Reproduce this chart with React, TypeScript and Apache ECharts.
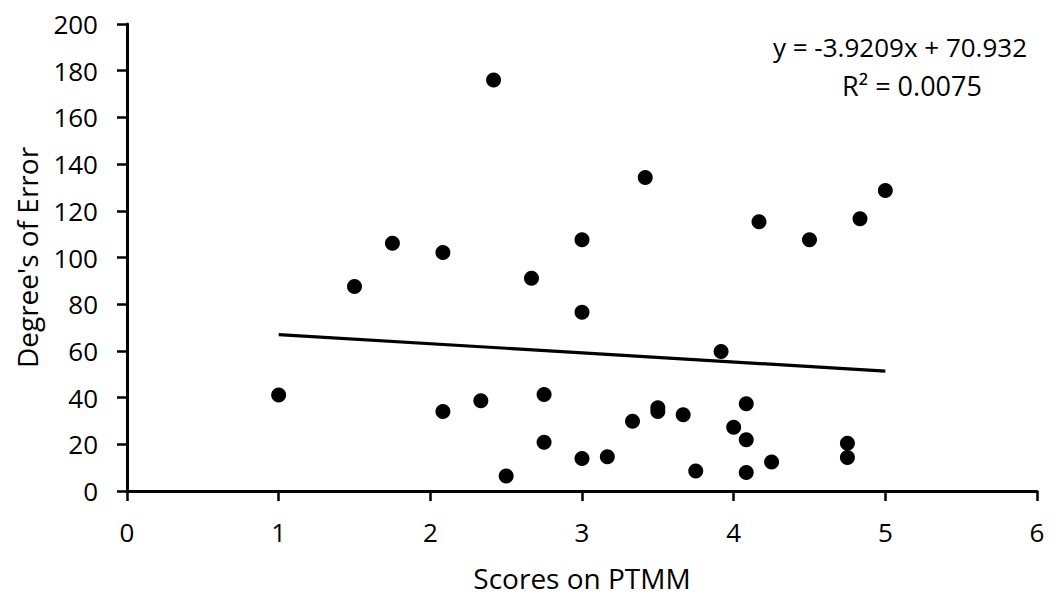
import React, { useEffect, useRef } from "react";
import * as echarts from "echarts";

// Scores on PTMM (x) and Degree's of Error (y)
const scoresPTMM: number[] = [
  1.0, 1.5, 1.75, 2.083, 2.083, 2.333, 2.417, 2.5, 2.667, 2.75, 2.75,
  3.0, 3.0, 3.0, 3.167, 3.333, 3.417, 3.5, 3.5, 3.667, 3.75, 3.917,
  4.0, 4.083, 4.083, 4.083, 4.167, 4.25, 4.5, 4.75, 4.75, 4.833, 5.0,
];
const degreesError: number[] = [
  41.1, 87.6, 106.1, 102.1, 34.0, 38.6, 176.0, 6.4, 91.1, 41.3, 20.9,
  107.6, 76.6, 13.9, 14.7, 29.9, 134.3, 35.7, 34.0, 32.7, 8.6, 59.7,
  27.3, 37.4, 21.9, 7.9, 115.3, 12.4, 107.6, 20.4, 14.3, 116.6, 128.7,
];

// Linear trendline shown in the chart
const trendSlope = -3.9209;
const trendIntercept = 70.932;
const equationLines: string[] = ["y = -3.9209x + 70.932", "R² = 0.0075"];

const xTicks = { min: 0, max: 6, interval: 1 };
const yTicks = { min: 0, max: 200, interval: 20 };

const FONT = "'Open Sans', sans-serif";

export default function App() {
  const ref = useRef<HTMLDivElement>(null);

  useEffect(() => {
    if (!ref.current) return;
    const chart = echarts.init(ref.current, undefined, { renderer: "svg" });

    const points = scoresPTMM.map((x, i) => [x, degreesError[i]]);
    const xMin = Math.min(...scoresPTMM);
    const xMax = Math.max(...scoresPTMM);
    const trend = [
      [xMin, trendSlope * xMin + trendIntercept],
      [xMax, trendSlope * xMax + trendIntercept],
    ];

    chart.setOption({
      animation: false,
      backgroundColor: "#ffffff",
      grid: { left: 127, right: 21, top: 24, bottom: 107, containLabel: false },
      xAxis: {
        type: "value",
        min: xTicks.min,
        max: xTicks.max,
        interval: xTicks.interval,
        name: "Scores on PTMM",
        nameLocation: "middle",
        nameGap: 73,
        nameTextStyle: { fontFamily: FONT, fontSize: 28, color: "#000" },
        axisLine: { show: true, lineStyle: { color: "#000", width: 3 } },
        axisTick: { show: true, inside: false, length: 10, lineStyle: { color: "#000", width: 2.5 } },
        axisLabel: { fontFamily: FONT, fontSize: 26, color: "#000", margin: 28 },
        splitLine: { show: false },
      },
      yAxis: {
        type: "value",
        min: yTicks.min,
        max: yTicks.max,
        interval: yTicks.interval,
        name: "Degree's of Error",
        nameLocation: "middle",
        nameGap: 86,
        nameTextStyle: { fontFamily: FONT, fontSize: 28, color: "#000" },
        axisLine: { show: true, lineStyle: { color: "#000", width: 3 } },
        axisTick: { show: true, inside: false, length: 10, lineStyle: { color: "#000", width: 2.5 } },
        axisLabel: { fontFamily: FONT, fontSize: 26, color: "#000", margin: 29 },
        splitLine: { show: false },
      },
      series: [
        {
          type: "line",
          data: trend,
          symbol: "none",
          lineStyle: { color: "#000", width: 3.2, opacity: 1 },
          z: 2,
          silent: true,
        },
        {
          type: "scatter",
          data: points,
          symbol: "circle",
          symbolSize: 15,
          itemStyle: { color: "#000", opacity: 1 },
          z: 3,
        },
      ],
      graphic: [
        {
          type: "text",
          x: 900,
          y: 47,
          style: {
            text: equationLines[0],
            fontFamily: FONT,
            fontSize: 26,
            fill: "#000",
            textAlign: "center",
            textVerticalAlign: "middle",
          },
        },
        {
          type: "text",
          x: 912,
          y: 85,
          style: {
            text: equationLines[1],
            fontFamily: FONT,
            fontSize: 27,
            fill: "#000",
            textAlign: "center",
            textVerticalAlign: "middle",
          },
        },
      ],
    });

    return () => chart.dispose();
  }, []);

  return (
    <div
      ref={ref}
      style={{ position: "fixed", left: 0, top: 0, width: 1058, height: 598 }}
    />
  );
}
